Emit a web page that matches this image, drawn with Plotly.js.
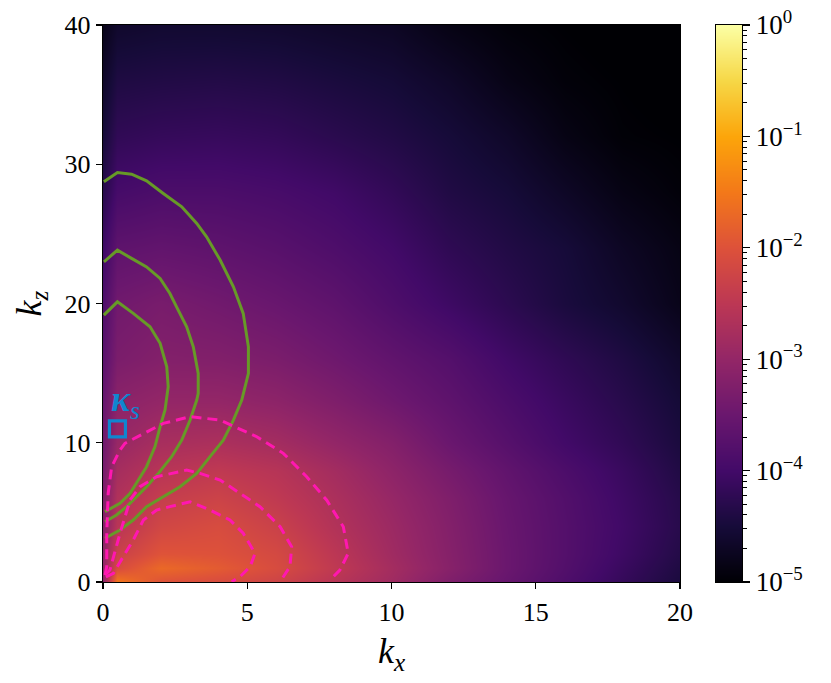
<!DOCTYPE html>
<html><head><meta charset="utf-8">
<script src="https://cdn.plot.ly/plotly-3.0.1.min.js"></script>
<style>html,body{margin:0;padding:0;background:#fff}#plot{width:831px;height:683px}</style>
</head><body><div id="plot"></div>
<script>
// grid (wavenumbers) and log10 of the spectrum
const kx = [0, 0.5, 2, 4, 6, 8, 10, 12, 14, 16, 18, 20];
const kz = [0, 1, 2, 4, 6, 8, 10, 13, 16, 20, 24, 28, 32, 36, 40];
const logE = [
  [-3.10, -1.50, -2.00, -2.10, -2.25, -2.55, -2.85, -3.25, -3.55, -3.85, -4.15, -4.45],
  [-3.00, -2.10, -1.70, -1.87, -2.10, -2.45, -2.80, -3.15, -3.50, -3.80, -4.10, -4.40],
  [-3.05, -2.30, -1.97, -2.00, -2.15, -2.50, -2.85, -3.17, -3.50, -3.78, -4.05, -4.35],
  [-3.15, -2.55, -2.20, -2.10, -2.30, -2.62, -2.90, -3.20, -3.52, -3.78, -4.02, -4.30],
  [-3.25, -2.65, -2.37, -2.27, -2.45, -2.70, -2.97, -3.25, -3.55, -3.80, -4.05, -4.32],
  [-3.35, -2.78, -2.55, -2.45, -2.57, -2.80, -3.07, -3.35, -3.62, -3.87, -4.10, -4.38],
  [-3.45, -2.95, -2.75, -2.70, -2.80, -3.00, -3.20, -3.50, -3.75, -4.00, -4.20, -4.45],
  [-3.55, -3.10, -3.00, -3.00, -3.08, -3.25, -3.45, -3.65, -3.88, -4.10, -4.30, -4.52],
  [-3.70, -3.30, -3.20, -3.22, -3.30, -3.45, -3.62, -3.78, -4.02, -4.22, -4.40, -4.62],
  [-3.85, -3.42, -3.33, -3.42, -3.52, -3.65, -3.85, -4.05, -4.25, -4.45, -4.60, -4.80],
  [-4.05, -3.65, -3.60, -3.65, -3.73, -3.85, -4.00, -4.22, -4.37, -4.50, -4.70, -4.85],
  [-4.30, -3.95, -3.88, -3.88, -3.93, -4.02, -4.18, -4.38, -4.50, -4.68, -4.85, -4.95],
  [-4.50, -4.20, -4.15, -4.13, -4.17, -4.27, -4.37, -4.50, -4.65, -4.85, -4.97, -5.00],
  [-4.65, -4.40, -4.37, -4.35, -4.38, -4.45, -4.52, -4.65, -4.83, -4.95, -5.00, -5.05],
  [-4.80, -4.62, -4.58, -4.58, -4.60, -4.65, -4.70, -4.85, -4.95, -5.00, -5.05, -5.10]
];

// solid green contours
const g1Kx = [0.03, 0.50, 1.05, 1.63, 1.98, 2.21, 2.26, 2.15, 1.98, 1.80, 1.51, 1.17, 0.94, 0.59, 0.07];
const g1Kz = [19.17, 20.12, 19.29, 18.33, 17.14, 15.46, 14.02, 12.35, 11.15, 9.71, 8.28, 7.09, 6.37, 5.65, 5.05];
const g2Kx = [0.03, 0.50, 0.99, 1.51, 1.98, 2.32, 2.55, 2.90, 3.13, 3.30, 3.30, 3.25, 3.02, 2.73, 2.38, 1.92, 1.51, 1.17, 0.82, 0.47, 0.07];
const g2Kz = [22.99, 23.83, 23.24, 22.63, 21.80, 20.72, 19.76, 18.33, 16.89, 14.98, 13.55, 13.07, 11.63, 10.19, 9.00, 7.80, 6.84, 6.12, 5.41, 4.81, 4.33];
const g3Kx = [0.03, 0.50, 0.99, 1.51, 2.09, 2.73, 3.25, 3.59, 4.06, 4.52, 4.86, 5.04, 5.04, 4.81, 4.52, 4.17, 3.71, 3.25, 2.67, 2.09, 1.51, 1.05, 0.59, 0.07];
const g3Kz = [28.74, 29.41, 29.29, 28.81, 27.90, 26.94, 25.75, 24.79, 23.12, 21.20, 19.29, 16.89, 14.98, 13.07, 11.63, 10.19, 9.00, 7.80, 6.84, 6.12, 5.41, 4.45, 3.73, 3.14];

// dashed pink contours
const p1Kx = [0.10, 0.36, 0.70, 1.05, 1.40, 1.86, 2.32, 3.02, 3.71, 4.40, 4.86, 5.27, 5.10, 4.75, 4.46];
const p1Kz = [0.36, 0.62, 1.82, 3.02, 4.45, 5.17, 5.41, 5.76, 5.17, 4.45, 3.50, 2.06, 1.10, 0.38, 0.02];
const p2Kx = [0.07, 0.24, 0.59, 0.94, 1.28, 1.86, 2.90, 3.36, 4.06, 4.75, 5.44, 6.14, 6.54, 6.48, 6.14];
const p2Kz = [0.50, 0.86, 3.50, 5.89, 6.84, 7.56, 8.04, 7.80, 7.32, 6.37, 5.41, 3.97, 2.53, 1.10, 0.02];
const p3Kx = [0.07, 0.13, 0.13, 0.18, 0.30, 0.59, 0.76, 1.40, 2.09, 3.02, 4.06, 5.33, 6.25, 7.06, 7.75, 8.33, 8.50, 8.21, 7.87];
const p3Kz = [0.50, 1.10, 3.50, 6.37, 8.28, 9.48, 9.96, 10.67, 11.39, 11.87, 11.63, 10.43, 9.24, 7.56, 5.89, 3.97, 2.06, 0.86, 0.14];

// kappa_s marker
const kappaKx = [0.5];
const kappaKz = [11];

// colour bar
const cbLevels = [-5, 0];
const cbTickVals = [-5, -4, -3, -2, -1, 0];
const cbTickText = ['10<sup>−5</sup>', '10<sup>−4</sup>', '10<sup>−3</sup>', '10<sup>−2</sup>', '10<sup>−1</sup>', '10<sup>0</sup>'];

const inferno = [
  [0.0, '#000004'], [0.1, '#160b39'], [0.2, '#420a68'], [0.3, '#6a176e'],
  [0.4, '#932667'], [0.5, '#bc3754'], [0.6, '#dd513a'], [0.7, '#f37819'],
  [0.8, '#fca50a'], [0.9, '#f6d746'], [1.0, '#fcffa4']
];

const minorVals = [];
for (let n = -5; n < 0; n++) for (let k = 2; k <= 9; k++) minorVals.push(n + Math.log10(k));

const FONT = 'Liberation Serif, DejaVu Serif, serif';
const GREEN = '#679a27';
const PINK = '#ff17b0';
const BLUE = '#0f86d0';

function line(x, y, color, dash) {
  return {type: 'scatter', mode: 'lines', x: x, y: y, xaxis: 'x', yaxis: 'y',
    line: {color: color, width: 3, dash: dash}, hoverinfo: 'skip', showlegend: false};
}

const traces = [
  {type: 'heatmap', x: kx, y: kz, z: logE, zmin: -5, zmax: 0, colorscale: inferno,
   zsmooth: 'best', showscale: false, hoverinfo: 'skip', xaxis: 'x', yaxis: 'y'},
  line(g1Kx, g1Kz, GREEN, 'solid'),
  line(g2Kx, g2Kz, GREEN, 'solid'),
  line(g3Kx, g3Kz, GREEN, 'solid'),
  line(p1Kx, p1Kz, PINK, '10px,6px'),
  line(p2Kx, p2Kz, PINK, '10px,6px'),
  line(p3Kx, p3Kz, PINK, '10px,6px'),
  {type: 'scatter', mode: 'markers', x: kappaKx, y: kappaKz, xaxis: 'x', yaxis: 'y',
   marker: {symbol: 'square-open', size: 16, color: BLUE, line: {width: 3.2, color: BLUE}},
   hoverinfo: 'skip', showlegend: false, cliponaxis: false},
  {type: 'heatmap', x: [0, 1], y: cbLevels, z: cbLevels.map(v => [v, v]), zmin: -5, zmax: 0,
   colorscale: inferno, zsmooth: 'best', showscale: false, hoverinfo: 'skip', xaxis: 'x2', yaxis: 'y2'}
];

const axisCommon = {showline: true, linecolor: 'black', linewidth: 1.3, mirror: true,
  ticks: 'outside', ticklen: 6, tickwidth: 1.3, tickcolor: 'black', showgrid: false, zeroline: false,
  tickfont: {family: FONT, size: 26, color: 'black'}};

const layout = {
  width: 831, height: 683,
  margin: {l: 103, r: 51, t: 25, b: 101},
  paper_bgcolor: 'white', plot_bgcolor: 'white',
  showlegend: false,
  xaxis: Object.assign({}, axisCommon, {domain: [0, 0.8523], range: [0, 20], tickvals: [0, 5, 10, 15, 20],
    title: {text: '<i>k</i><sub><i>x</i></sub>', font: {family: FONT, size: 36, color: 'black'}, standoff: 12}}),
  yaxis: Object.assign({}, axisCommon, {domain: [0, 1], range: [0, 40], tickvals: [0, 10, 20, 30, 40],
    title: {text: '<i>k</i><sub><i>z</i></sub>', font: {family: FONT, size: 36, color: 'black'}, standoff: 12}}),
  xaxis2: {domain: [0.9055, 0.9439], range: [0, 1], anchor: 'y2', showticklabels: false, ticks: '',
    showline: true, mirror: true, linecolor: 'black', linewidth: 1.3, showgrid: false, zeroline: false},
  yaxis2: {domain: [0, 1], range: [-5, 0], anchor: 'x2', side: 'right', showline: true, mirror: true,
    linecolor: 'black', linewidth: 1.3, showgrid: false, zeroline: false,
    tickmode: 'array', tickvals: cbTickVals, ticktext: cbTickText, ticks: 'outside', ticklen: 7,
    tickwidth: 1.3, tickcolor: 'black', tickfont: {family: FONT, size: 27, color: 'black'},
    minor: {tickmode: 'array', tickvals: minorVals, ticks: 'outside', ticklen: 3.5, tickwidth: 1, tickcolor: 'black'}},
  annotations: [{x: kappaKx[0], y: kappaKz[0], xref: 'x', yref: 'y', showarrow: false,
    text: '<b><i>κ</i></b><sub><i>s</i></sub>', xshift: 8, yshift: 27,
    font: {family: FONT, size: 36, color: BLUE}}]
};

Plotly.newPlot('plot', traces, layout, {displayModeBar: false, staticPlot: true});
</script>
</body></html>
